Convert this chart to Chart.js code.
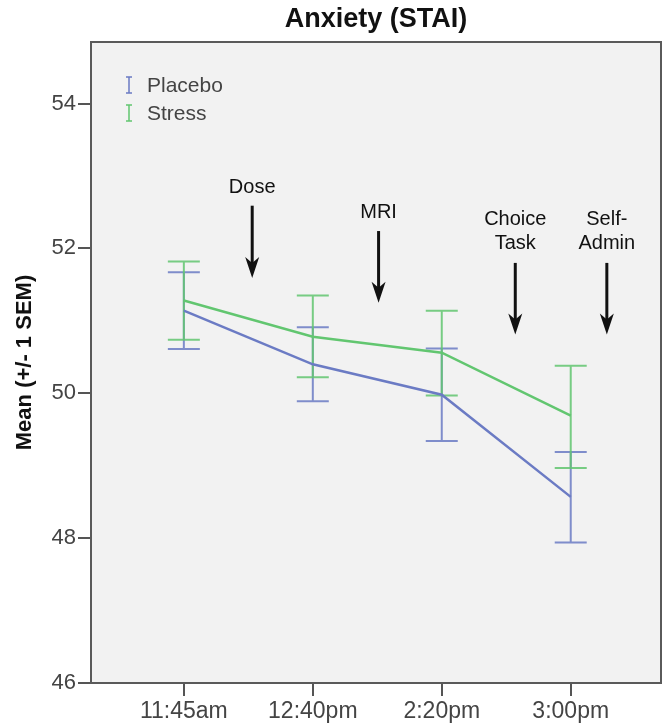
<!DOCTYPE html>
<html>
<head>
<meta charset="utf-8">
<script src="https://cdn.jsdelivr.net/npm/chart.js@4"></script>
<style>
  html, body { margin: 0; padding: 0; background: #fff; }
  #wrap { width: 666px; height: 727px; }
</style>
</head>
<body>
<div id="wrap"><canvas id="anxietyChart" width="666" height="727"></canvas></div>
<script>
const categories = ["11:45am", "12:40pm", "2:20pm", "3:00pm"];
const yTicks = [46, 48, 50, 52, 54];

const placeboMean = [51.14, 50.40, 49.98, 48.57];
const placeboUpper = [51.67, 50.91, 50.62, 49.19];
const placeboLower = [50.61, 49.89, 49.34, 47.94];

const stressMean = [51.28, 50.78, 50.56, 49.69];
const stressUpper = [51.82, 51.35, 51.14, 50.38];
const stressLower = [50.74, 50.22, 49.97, 48.97];

// event markers: label lines, x in category units, text / arrow y in axis units
const eventLabels = [["Dose"], ["MRI"], ["Choice", "Task"], ["Self-", "Admin"]];
const eventX = [0.53, 1.51, 2.57, 3.28];
const eventTextY = [52.84, 52.49, 52.40, 52.40];
const eventArrowTop = [52.59, 52.24, 51.80, 51.80];
const eventArrowTip = [51.59, 51.25, 50.81, 50.81];

const FONT = "'Liberation Sans', Arial, sans-serif";
const placeboColor = "#6b7bc4";
const stressColor = "#62c670";

function points(vals) {
    return vals.map((v, i) => ({ x: i, y: v }));
}

const errorBars = {
    placebo: { upper: placeboUpper, lower: placeboLower },
    stress: { upper: stressUpper, lower: stressLower }
};

const decorPlugin = {
    id: "decor",
    beforeDraw(chart) {
        const { ctx, chartArea: a } = chart;
        ctx.save();
        ctx.fillStyle = "#f2f2f2";
        ctx.fillRect(a.left, a.top, a.right - a.left, a.bottom - a.top);
        ctx.restore();
    },
    beforeDatasetsDraw(chart) {
        const { ctx, scales } = chart;
        ctx.save();
        ctx.lineWidth = 2;
        chart.data.datasets.forEach(ds => {
            const eb = errorBars[ds.key];
            ctx.strokeStyle = ds.barColor;
            ds.data.forEach((p, i) => {
                const x = scales.x.getPixelForValue(p.x);
                const yu = scales.y.getPixelForValue(eb.upper[i]);
                const yl = scales.y.getPixelForValue(eb.lower[i]);
                ctx.beginPath();
                ctx.moveTo(x, yu); ctx.lineTo(x, yl);
                ctx.moveTo(x - 16, yu); ctx.lineTo(x + 16, yu);
                ctx.moveTo(x - 16, yl); ctx.lineTo(x + 16, yl);
                ctx.stroke();
            });
        });
        ctx.restore();
    },
    afterDraw(chart) {
        const { ctx, chartArea: a, scales } = chart;
        ctx.save();

        // frame
        ctx.strokeStyle = "#5a5a5a";
        ctx.lineWidth = 2;
        ctx.strokeRect(a.left, a.top, a.right - a.left, a.bottom - a.top);

        // title
        ctx.fillStyle = "#111";
        ctx.font = "bold 27px " + FONT;
        ctx.textAlign = "center";
        ctx.textBaseline = "middle";
        ctx.fillText("Anxiety (STAI)", (a.left + a.right) / 2, 20);

        // legend
        ctx.font = "21px " + FONT;
        ctx.textAlign = "left";
        chart.data.datasets.forEach((ds, i) => {
            const cy = a.top + 43 + i * 28;
            const cx = a.left + 38;
            ctx.strokeStyle = ds.borderColor;
            ctx.lineWidth = 1.5;
            ctx.beginPath();
            ctx.moveTo(cx, cy - 8); ctx.lineTo(cx, cy + 8);
            ctx.moveTo(cx - 3, cy - 8); ctx.lineTo(cx + 3, cy - 8);
            ctx.moveTo(cx - 3, cy + 8); ctx.lineTo(cx + 3, cy + 8);
            ctx.stroke();
            ctx.fillStyle = "#444";
            ctx.fillText(ds.label, cx + 18, cy + 1);
        });

        // event arrows
        ctx.fillStyle = "#111";
        ctx.strokeStyle = "#111";
        ctx.font = "20px " + FONT;
        ctx.textAlign = "center";
        eventLabels.forEach((lines, i) => {
            const x = scales.x.getPixelForValue(eventX[i]);
            const ty = scales.y.getPixelForValue(eventTextY[i]);
            lines.forEach((t, j) => ctx.fillText(t, x, ty + j * 24));
            const y0 = scales.y.getPixelForValue(eventArrowTop[i]);
            const y1 = scales.y.getPixelForValue(eventArrowTip[i]);
            ctx.lineWidth = 3;
            ctx.beginPath();
            ctx.moveTo(x, y0); ctx.lineTo(x, y1 - 12);
            ctx.stroke();
            ctx.beginPath();
            ctx.moveTo(x, y1);
            ctx.lineTo(x - 7, y1 - 21);
            ctx.lineTo(x, y1 - 15);
            ctx.lineTo(x + 7, y1 - 21);
            ctx.closePath();
            ctx.fill();
        });
        ctx.restore();
    }
};

new Chart(document.getElementById("anxietyChart").getContext("2d"), {
    type: "line",
    data: {
        datasets: [
            {
                key: "placebo",
                label: "Placebo",
                data: points(placeboMean),
                borderColor: placeboColor,
                barColor: "rgba(107,123,196,0.85)",
                borderWidth: 2.5,
                pointRadius: 0,
                tension: 0
            },
            {
                key: "stress",
                label: "Stress",
                data: points(stressMean),
                borderColor: stressColor,
                barColor: "rgba(98,198,112,0.85)",
                borderWidth: 2.5,
                pointRadius: 0,
                tension: 0
            }
        ]
    },
    options: {
        responsive: false,
        animation: false,
        layout: { padding: { top: 42, right: 5, left: 0, bottom: 0 } },
        plugins: {
            legend: { display: false },
            title: { display: false },
            tooltip: { enabled: false }
        },
        scales: {
            x: {
                type: "linear",
                min: -0.72,
                max: 3.7,
                afterBuildTicks: s => { s.ticks = categories.map((c, i) => ({ value: i })); },
                afterFit: s => { s.height = 44; },
                ticks: {
                    callback: v => categories[v],
                    color: "#444",
                    font: { family: FONT, size: 23 },
                    padding: 2,
                    maxRotation: 0
                },
                grid: { drawOnChartArea: false, drawTicks: true, tickLength: 13, color: "#555", lineWidth: 2 },
                border: { display: true, color: "#5a5a5a", width: 2 }
            },
            y: {
                min: 46,
                max: 54.85,
                afterBuildTicks: s => { s.ticks = yTicks.map(v => ({ value: v })); },
                afterFit: s => { s.width = 91; },
                ticks: {
                    color: "#444",
                    font: { family: FONT, size: 22 },
                    padding: 2
                },
                grid: { drawOnChartArea: false, drawTicks: true, tickLength: 13, color: "#555", lineWidth: 2 },
                border: { display: true, color: "#5a5a5a", width: 2 },
                title: {
                    display: true,
                    text: "Mean (+/- 1 SEM)",
                    color: "#111",
                    font: { family: FONT, size: 22, weight: "bold" },
                    padding: { top: 12, bottom: 0 }
                }
            }
        }
    },
    plugins: [decorPlugin]
});
</script>
</body>
</html>
